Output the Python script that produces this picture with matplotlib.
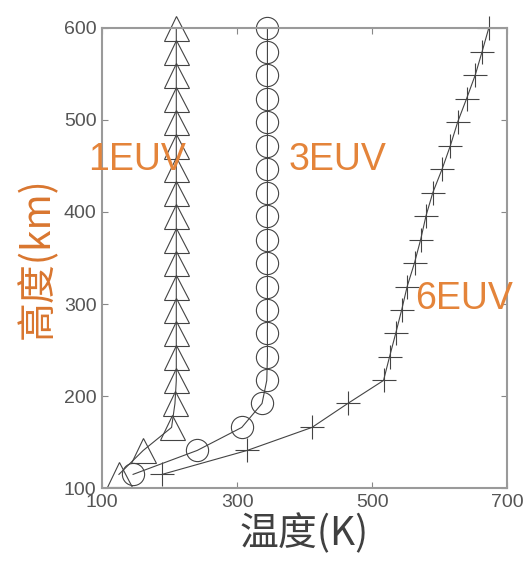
import matplotlib
matplotlib.use('Agg')
import matplotlib.pyplot as plt

# --- datos ---
altura = [115, 141, 166, 192, 217, 243, 268, 294, 319, 345,
          370, 396, 421, 447, 472, 498, 523, 549, 574, 600]

temp_1euv = [125, 161, 203, 208, 210, 210, 210, 210, 210, 210,
             210, 210, 210, 210, 210, 210, 210, 210, 210, 210]
temp_3euv = [146, 241, 307, 337, 344, 345, 345, 345, 345, 345,
             345, 345, 345, 345, 345, 345, 345, 345, 345, 345]
temp_6euv = [189, 315, 411, 464, 517, 526, 535, 544, 552, 563,
             572, 580, 590, 604, 616, 627, 640, 653, 663, 673]

xticks = [100, 300, 500, 700]
yticks = [100, 200, 300, 400, 500, 600]

plt.rcParams['font.family'] = ['Noto Sans CJK SC', 'DejaVu Sans']

fig = plt.figure(figsize=(5.26, 5.67), dpi=100)
ax = fig.add_axes([0.194, 0.139, 0.770, 0.812])

estilo = dict(color='#444444', linewidth=0.8, markerfacecolor='none',
              markeredgecolor='#444444', markeredgewidth=0.8, clip_on=False)
ax.plot(temp_1euv, altura, marker='^', markersize=18, **estilo)
ax.plot(temp_3euv, altura, marker='o', markersize=16, **estilo)
ax.plot(temp_6euv, altura, marker='+', markersize=17, **estilo)

# etiquetas de cada curva
naranja = '#E4843A'
ax.text(79, 456, '1EUV', color=naranja, fontsize=27, va='center', ha='left',
        family='Liberation Sans', clip_on=False)
ax.text(376, 456, '3EUV', color=naranja, fontsize=27, va='center', ha='left',
        family='Liberation Sans')
ax.text(564, 306, '6EUV', color=naranja, fontsize=27, va='center', ha='left',
        family='Liberation Sans')

ax.set_xlim(100, 700)
ax.set_ylim(100, 600)
ax.set_xticks(xticks)
ax.set_yticks(yticks)
ax.tick_params(direction='in', length=4, width=0.8, color='#888888',
               labelsize=14, labelcolor='#555555', top=True, right=True, pad=4)
for lab in ax.get_xticklabels() + ax.get_yticklabels():
    lab.set_family('Liberation Sans')
for s in ax.spines.values():
    s.set_color('#9a9a9a')
    s.set_linewidth(1.5)

ax.set_xlabel('温度(K)', fontsize=28, color='#404040', labelpad=2)
ax.set_ylabel('高度(km)', fontsize=28, color='#D9762F', labelpad=4)

plt.savefig('out.png', dpi=100)
plt.close()
